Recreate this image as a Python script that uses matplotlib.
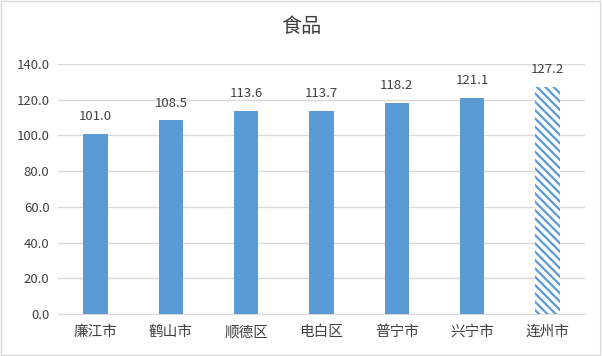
import matplotlib.pyplot as plt
import matplotlib as mpl
from matplotlib.patches import Rectangle

plt.rcParams['font.family'] = ['Noto Sans CJK SC', 'DejaVu Sans']
mpl.rcParams['hatch.linewidth'] = 1.6

cities = ['廉江市', '鹤山市', '顺德区', '电白区', '普宁市', '兴宁市', '连州市']
values = [101.0, 108.5, 113.6, 113.7, 118.2, 121.1, 127.2]
yticks = [0, 20, 40, 60, 80, 100, 120, 140]

blue = '#5B9BD5'

fig = plt.figure(figsize=(6.02, 3.56), dpi=100)
ax = fig.add_axes([0.096, 0.118, 0.876, 0.702])

x = list(range(len(cities)))
ax.bar(x[:-1], values[:-1], width=0.32, color=blue, zorder=3)
ax.bar(x[-1:], values[-1:], width=0.32, color='white', edgecolor=blue,
       hatch='\\\\\\\\', linewidth=0, zorder=3)

# data labels
for xi, v in zip(x, values):
    ax.text(xi, v + 6, f'{v:.1f}', ha='center', va='bottom', fontsize=9.5,
            color='#404040')

ax.set_xlim(-0.5, len(cities) - 0.5)
ax.set_ylim(0, 140)
ax.set_yticks(yticks)
ax.set_yticklabels([f'{t:.1f}' for t in yticks], fontsize=9.5, color='#404040')
ax.set_xticks(x)
ax.set_xticklabels(cities, fontsize=10.5, color='#404040')
ax.tick_params(length=0, pad=8)
ax.tick_params(axis='y', pad=6)
ax.grid(axis='y', color='#D9D9D9', linewidth=1, zorder=0)
for s in ['top', 'right', 'left']:
    ax.spines[s].set_visible(False)
ax.spines['bottom'].set_color('#D9D9D9')

fig.text(0.5, 0.925, '食品', ha='center', va='center', fontsize=14.5, color='#404040')
fig.patches.append(Rectangle((0.002, 0.003), 0.995, 0.993, transform=fig.transFigure,
                             fill=False, edgecolor='#D9D9D9', linewidth=1))

fig.savefig('out.png', dpi=100)
